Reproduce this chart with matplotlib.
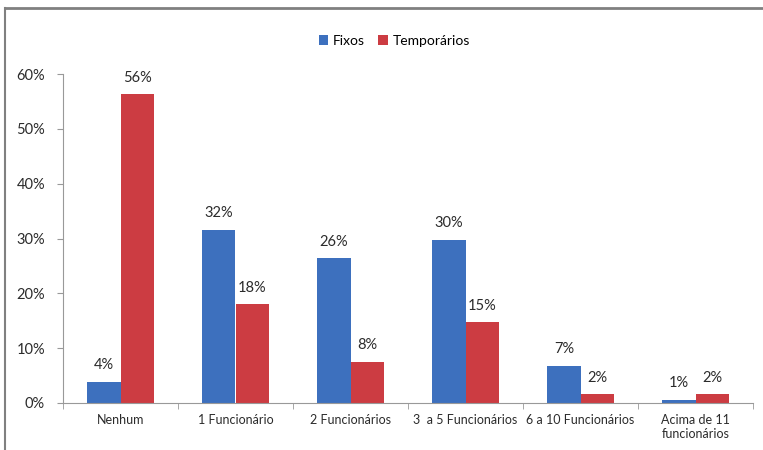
import numpy as np
import matplotlib.pyplot as plt
from matplotlib.lines import Line2D

plt.rcParams['font.family'] = ['Lato', 'DejaVu Sans']

# dados
categorias = ['Nenhum', '1 Funcionário', '2 Funcionários', '3  a 5 Funcionários',
              '6 a 10 Funcionários', 'Acima de 11\nfuncionários']
fixos = [3.8, 31.6, 26.4, 29.8, 6.8, 0.6]
temporarios = [56.3, 18.0, 7.5, 14.7, 1.6, 1.6]
rotulos_fixos = ['4%', '32%', '26%', '30%', '7%', '1%']
rotulos_temp = ['56%', '18%', '8%', '15%', '2%', '2%']
ticks_y = [0, 10, 20, 30, 40, 50, 60]

AZUL = '#3d70be'
VERMELHO = '#cc3c42'

fig = plt.figure(figsize=(7.63, 4.5), dpi=100)
ax = fig.add_axes([63 / 763, 47 / 450, 690 / 763, 329 / 450])

x = np.arange(len(categorias))
w = 0.29
b1 = ax.bar(x - w / 2, fixos, w, color=AZUL, label='Fixos')
b2 = ax.bar(x + w / 2, temporarios, w, color=VERMELHO, label='Temporários')

for barras, rotulos in ((b1, rotulos_fixos), (b2, rotulos_temp)):
    for b, r in zip(barras, rotulos):
        ax.annotate(r, (b.get_x() + b.get_width() / 2, b.get_height()),
                    xytext=(0, 7), textcoords='offset points',
                    ha='center', va='bottom', fontsize=10.5, color='#2b2b2b')

ax.set_xlim(-0.5, len(categorias) - 0.5)
ax.set_ylim(0, 60)
ax.set_yticks(ticks_y)
ax.set_yticklabels([f'{v}%' for v in ticks_y], fontsize=10.5, color='#2b2b2b')
ax.set_xticks(x)
ax.set_xticklabels(categorias, fontsize=9, color='#2b2b2b')
ax.tick_params(axis='x', length=0, pad=8)
ax.set_xticks(np.arange(-0.5, len(categorias)), minor=True)
ax.tick_params(axis='x', which='minor', length=4, color='#999999')
ax.tick_params(axis='y', length=4, color='#999999', pad=9)

for s in ('top', 'right'):
    ax.spines[s].set_visible(False)
for s in ('left', 'bottom'):
    ax.spines[s].set_color('#999999')

ax.legend(loc='center', bbox_to_anchor=(0.48, 1.10), ncol=2, frameon=False,
          fontsize=10, handlelength=0.7, handleheight=0.7, handletextpad=0.3,
          columnspacing=1.0)

# moldura cinza (topo e esquerda)
fig.add_artist(Line2D([5 / 763, 1], [442 / 450, 442 / 450], color='#808080', lw=2))
fig.add_artist(Line2D([5 / 763, 5 / 763], [0, 442 / 450], color='#808080', lw=1.5))

fig.savefig('out.png', dpi=100)
